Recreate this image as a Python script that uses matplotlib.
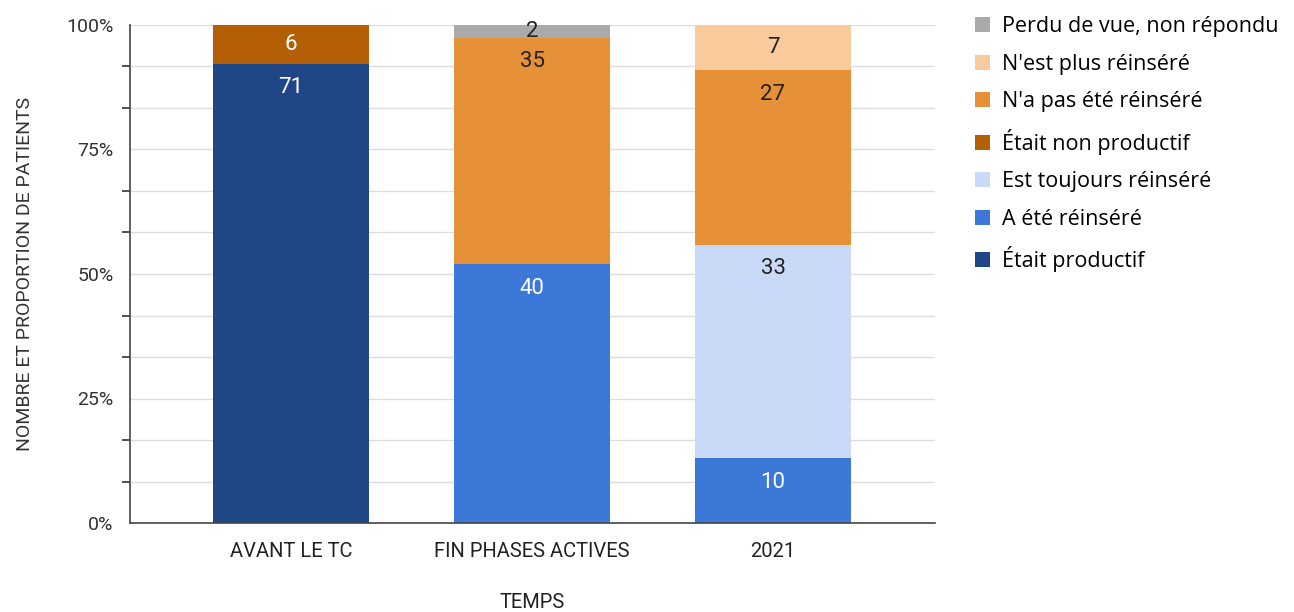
import matplotlib.pyplot as plt
import numpy as np
from matplotlib.patches import Patch

# Number of patients per category, per time point
periods = ['AVANT LE TC', 'FIN PHASES ACTIVES', '2021']
etait_productif = [71, 0, 0]
a_ete_reinsere = [0, 40, 10]
est_toujours_reinsere = [0, 0, 33]
etait_non_productif = [6, 0, 0]
na_pas_ete_reinsere = [0, 35, 27]
nest_plus_reinsere = [0, 0, 7]
perdu_de_vue = [0, 2, 0]

# bottom -> top stacking order
series = [
    ('Était productif', etait_productif, '#1f4788', 'white'),
    ('A été réinséré', a_ete_reinsere, '#3c78d8', 'white'),
    ('Est toujours réinséré', est_toujours_reinsere, '#c9daf8', '#222222'),
    ('Était non productif', etait_non_productif, '#b45f06', 'white'),
    ("N'a pas été réinséré", na_pas_ete_reinsere, '#e69138', '#222222'),
    ("N'est plus réinséré", nest_plus_reinsere, '#f9cb9c', '#222222'),
    ('Perdu de vue, non répondu', perdu_de_vue, '#aaaaaa', '#222222'),
]

plt.rcParams['font.family'] = ['Roboto', 'DejaVu Sans']
narrow = ['Liberation Sans Narrow', 'Roboto']

fig = plt.figure(figsize=(12.94, 6.12), dpi=100)
ax = fig.add_axes([130 / 1294, 1 - 523 / 612, 805 / 1294, 498 / 612])

totals = np.sum([s[1] for s in series], axis=0)
x = np.arange(len(periods))
bottom = np.zeros(len(periods))
for name, vals, color, tcolor in series:
    pct = np.array(vals) / totals * 100
    ax.bar(x, pct, bottom=bottom, width=0.65, color=color, zorder=2)
    for i, v in enumerate(vals):
        if v == 0:
            continue
        top = bottom[i] + pct[i]
        off = min(4.8, pct[i] / 2)
        ax.text(x[i], top - off, str(v), ha='center', va='center',
                fontsize=16, color=tcolor, zorder=3)
    bottom += pct

ax.set_xlim(-0.668, 2.672)
ax.set_ylim(0, 100)
ax.set_yticks([0, 25, 50, 75, 100])
ax.set_yticklabels(['0%', '25%', '50%', '75%', '100%'], fontsize=14, color='#333333')
ax.set_yticks(np.arange(0, 100.01, 100 / 12), minor=True)
ax.tick_params(axis='y', which='major', length=0, pad=12)
ax.tick_params(axis='y', which='minor', length=6, width=1.2, color='#333333')
ax.grid(axis='y', which='both', color='#dddddd', linewidth=1, zorder=0)

ax.set_xticks(x)
ax.set_xticklabels(periods, fontsize=14.5, family=narrow, color='#222222')
ax.tick_params(axis='x', length=0, pad=14)

for side in ['top', 'right']:
    ax.spines[side].set_visible(False)
for side in ['left', 'bottom']:
    ax.spines[side].set_color('#444444')
    ax.spines[side].set_linewidth(1.2)

fig.text(532 / 1294, 1 - 603 / 612, 'TEMPS', ha='center', va='center',
         fontsize=14.5, family=narrow, color='#222222')
ax.set_ylabel('NOMBRE ET PROPORTION DE PATIENTS', fontsize=14, color='#333333', labelpad=23)

handles = [Patch(facecolor=c, edgecolor='none', label=n) for n, _, c, _ in series][::-1]
fig.legend(handles=handles, loc='upper left', bbox_to_anchor=(975 / 1294, 1 - 16 / 612),
           frameon=False, borderpad=0, borderaxespad=0,
           handlelength=0.7, handleheight=0.7,
           handletextpad=0.55, labelspacing=0.77,
           prop={'family': ['Open Sans', 'DejaVu Sans'], 'size': 15.5})

fig.savefig('out.png', dpi=100)
